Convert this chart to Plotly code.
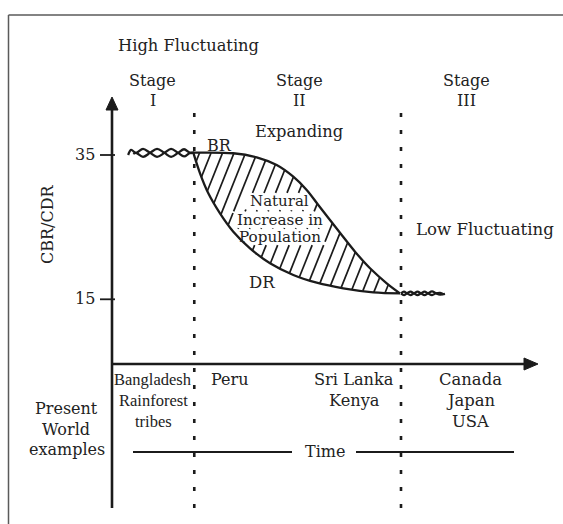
import numpy as np
import plotly.graph_objects as go

# ---------------- data ----------------
# time runs 0 (y-axis) .. 100 (arrow tip); rates in births/deaths per 1000
br_time = [19.13, 28.54, 34.05, 38.75, 42.66, 45.81, 48.54, 51.29, 54.05, 57.18, 60.71, 64.64, 67.76]
br_rate = [35.32, 35.24, 34.68, 33.61, 31.99, 30.15, 28.07, 25.99, 23.91, 21.60, 19.30, 17.22, 15.83]
dr_time = [19.13, 20.71, 22.66, 25.41, 28.54, 32.47, 37.18, 42.66, 48.16, 54.42, 61.48, 67.76]
dr_rate = [35.32, 32.46, 29.69, 26.91, 24.37, 22.07, 19.99, 18.37, 17.30, 16.52, 15.97, 15.83]

# high fluctuating (stage I) twisted lines
hf_a_time = [3.8, 4.5, 5.65, 7.3, 8.95, 10.6, 12.35, 13.9, 15.55, 16.95, 18.35, 19.3]
hf_a_rate = [35.0, 35.7, 35.3, 35.85, 35.3, 34.75, 35.3, 35.85, 35.3, 34.8, 35.3, 35.32]
hf_b_time = [5.0, 5.65, 7.3, 8.95, 10.6, 12.35, 13.9, 15.55, 16.95, 18.35, 19.3]
hf_b_rate = [35.15, 35.3, 34.75, 35.3, 35.85, 35.3, 34.75, 35.3, 35.8, 35.3, 35.32]
# low fluctuating (stage III) twisted lines
lf_a_time = [68.0, 68.7, 69.4, 70.25, 71.05, 71.9, 72.7, 73.55, 74.35, 75.3, 76.25, 77.2, 78.35]
lf_a_rate = [15.83, 16.07, 15.83, 15.59, 15.83, 16.07, 15.83, 15.59, 15.83, 16.1, 15.83, 15.65, 15.75]
lf_b_time = [68.0, 68.7, 69.4, 70.25, 71.05, 71.9, 72.7, 73.55, 74.35, 75.3, 76.25, 77.2, 78.0]
lf_b_rate = [15.83, 15.59, 15.83, 16.07, 15.83, 15.59, 15.83, 16.07, 15.83, 15.58, 15.83, 15.9, 15.7]

stage_bounds = [19.36, 68.0]
tick_values = [35, 15]
tick_labels = ["35", "15"]
stage_names = [("Stage", "I"), ("Stage", "II"), ("Stage", "III")]
examples = [["Bangladesh", "Rainforest", "tribes"], ["Peru"], ["Sri Lanka", "Kenya"], ["Canada", "Japan", "USA"]]

# ---------------- geometry ----------------
W, H = 563, 524
X0_PX, SX = 112.0, 4.25      # px of time 0, px per time unit
Y35_PX, SY = 155.0, 7.215    # px of rate 35, px per rate unit


def dx(px):
    return (px - X0_PX) / SX


def dy(py):
    return 35 - (py - Y35_PX) / SY


def to_px(x, y):
    return X0_PX + np.asarray(x) * SX, Y35_PX - (np.asarray(y) - 35) * SY


INK = "#1b1b1b"
TXT = "#222222"

fig = go.Figure()


def line(xs, ys, width=2.2, dash=None, shape="linear", color=INK):
    fig.add_trace(go.Scatter(x=xs, y=ys, mode="lines", hoverinfo="skip",
                             line=dict(color=color, width=width, dash=dash, shape=shape)))


# ---------------- hatching between BR and DR ----------------
bpx, bpy = to_px(br_time, br_rate)
dpx, dpy = to_px(dr_time, dr_rate)
grid_b = np.linspace(bpx[0], bpx[-1], 600)
grid_d = np.linspace(dpx[0], dpx[-1], 600)
gb_y = np.interp(grid_b, bpx, bpy)
gd_y = np.interp(grid_d, dpx, dpy)
SLOPE = 2.5
hb = grid_b + gb_y / SLOPE
hd = grid_d + gd_y / SLOPE
text_boxes = [(246, 193, 312, 210), (233, 211.5, 325, 228), (235, 229, 325, 245)]
hx, hy = [], []
step = 11.5
for c in np.arange(hb[0] + step * 0.55, hb[-1] - 2, step):
    x_d = np.interp(c, hd, grid_d)
    y_d = np.interp(x_d, grid_d, gd_y)
    x_b = np.interp(c, hb, grid_b)
    y_b = np.interp(x_b, grid_b, gb_y)
    t = np.linspace(0, 1, 300)
    px_ = x_d + (x_b - x_d) * t
    py_ = y_d + (y_b - y_d) * t
    inside = np.zeros_like(t, dtype=bool)
    for (l, tp, r, bt) in text_boxes:
        inside |= (px_ >= l) & (px_ <= r) & (py_ >= tp) & (py_ <= bt)
    i = 0
    n = len(t)
    while i < n:
        if inside[i]:
            i += 1
            continue
        j = i
        while j + 1 < n and not inside[j + 1]:
            j += 1
        if j > i:
            hx += [dx(px_[i]), dx(px_[j]), None]
            hy += [dy(py_[i]), dy(py_[j]), None]
        i = j + 1
line(hx, hy, width=1.7)

# ---------------- curves ----------------
line(br_time, br_rate, width=2.3, shape="spline")
line(dr_time, dr_rate, width=2.3, shape="spline")
line(hf_a_time, hf_a_rate, width=2.3, shape="spline")
line(hf_b_time, hf_b_rate, width=2.3, shape="spline")
line(lf_a_time, lf_a_rate, width=2.2, shape="spline")
line(lf_b_time, lf_b_rate, width=2.2, shape="spline")

# ---------------- stage dividers ----------------
for sb in stage_bounds:
    line([sb, sb], [dy(113), dy(512)], width=2.6, dash="4px,13px")

# ---------------- axes ----------------
axis_y = dy(364)
line([0, 0], [dy(108), dy(508)], width=2.6)
line([0, dx(526)], [axis_y, axis_y], width=2.6)
fig.add_trace(go.Scatter(x=[0, dx(106), dx(118), 0], y=[dy(97), dy(110), dy(110), dy(97)],
                         mode="lines", fill="toself", fillcolor=INK, line=dict(color=INK, width=1),
                         hoverinfo="skip"))
fig.add_trace(go.Scatter(x=[dx(538), dx(524), dx(524), dx(538)], y=[axis_y, axis_y + 6 / SY, axis_y - 6 / SY, axis_y],
                         mode="lines", fill="toself", fillcolor=INK, line=dict(color=INK, width=1),
                         hoverinfo="skip"))
for v in tick_values:
    line([dx(100), dx(115)], [v, v], width=1.8)

# time line
time_y = dy(452)
line([dx(133), dx(292)], [time_y, time_y], width=2.2)
line([dx(356), dx(514)], [time_y, time_y], width=2.2)

# frame (cropped box)
fig.add_shape(type="line", xref="paper", yref="paper", x0=8.5 / W, x1=8.5 / W, y0=1 - 15 / H, y1=-0.05,
              line=dict(color="#5a5a5a", width=1.5))
fig.add_shape(type="line", xref="paper", yref="paper", x0=8.5 / W, x1=1.05, y0=1 - 15 / H, y1=1 - 15 / H,
              line=dict(color="#5a5a5a", width=1.5))


# ---------------- text ----------------
def ann(text, px, py, size=16, xanchor="center", angle=0, family="DejaVu Serif"):
    fig.add_annotation(text=text, x=px / W, y=1 - py / H, xref="paper", yref="paper",
                       showarrow=False, xanchor=xanchor, yanchor="middle",
                       font=dict(family=family, size=size, color=TXT),
                       textangle=angle, borderpad=0)


ann("High Fluctuating", 188.5, 45, size=16.3)
for (a, b), cx in zip(stage_names, [152.5, 299, 466]):
    ann(a, cx, 80)
    ann(b, cx, 101)
ann("Expanding", 299, 131, size=16.3)
ann("BR", 219.5, 145.5)
ann("DR", 261.5, 282, size=16.5)
ann("Natural", 279, 201, size=15)
ann("Increase in", 279.5, 219.5, size=15.2)
ann("Population", 280, 236.5, size=15.2)
ann("Low Fluctuating", 485, 229, size=16.6)
ann("CBR/CDR", 47, 224, angle=-90)
for v, lab in zip(tick_values, tick_labels):
    ann(lab, 96, to_px(0, v)[1] - 0.5, xanchor="right")

rows = [379, 400, 421]
col_fonts = [("Liberation Serif", 16.5), ("DejaVu Serif", 16), ("DejaVu Serif", 16.2), ("DejaVu Serif", 16.4)]
for names, cx, (fam, sz) in zip(examples, [153, 229.5, 354, 470.5], col_fonts):
    for k, nm in enumerate(names):
        ann(nm, cx, rows[k], size=sz, family=fam)
ann("Present", 66, 408)
ann("World", 66, 429)
ann("examples", 66.5, 449.5)
ann("Time", 325, 451)

fig.update_layout(
    width=W, height=H, margin=dict(l=0, r=0, t=0, b=0, pad=0),
    paper_bgcolor="white", plot_bgcolor="white", showlegend=False,
    xaxis=dict(visible=False, range=[dx(0), dx(W)], fixedrange=True),
    yaxis=dict(visible=False, range=[dy(H), dy(0)], fixedrange=True),
)
fig.write_html("out.html", config={"displayModeBar": False},
               post_script="document.body.style.margin='0px';document.body.style.overflow='hidden';")
